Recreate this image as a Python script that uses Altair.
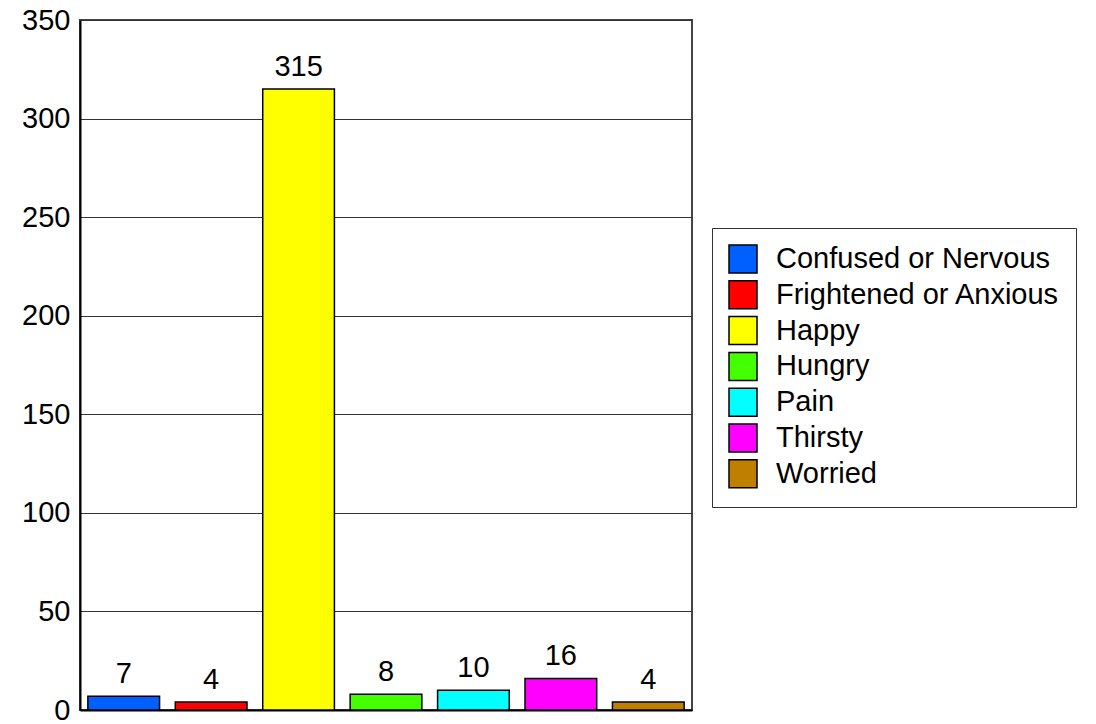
import altair as alt
import pandas as pd

categories = ["Confused or Nervous", "Frightened or Anxious", "Happy", "Hungry", "Pain", "Thirsty", "Worried"]
values = [7, 4, 315, 8, 10, 16, 4]
colors = ["#0060FF", "#FF0000", "#FFFF00", "#44FF00", "#00FFFF", "#FF00FF", "#BF7F00"]
y_ticks = [0, 50, 100, 150, 200, 250, 300, 350]

df = pd.DataFrame({"category": categories, "value": values})
FONT = "Liberation Sans"
FS = 29

base = alt.Chart(df).encode(
    x=alt.X("category:N", sort=categories,
            scale=alt.Scale(paddingInner=0.18, paddingOuter=0.09),
            axis=alt.Axis(title=None, labels=False, ticks=False, domain=True,
                          domainColor="black", domainWidth=2, grid=False)),
    y=alt.Y("value:Q", scale=alt.Scale(domain=[0, 350], nice=False),
            axis=alt.Axis(title=None, values=y_ticks, ticks=False, labelPadding=10,
                          labelFontSize=FS, labelFont=FONT, labelColor="black",
                          domainColor="black", domainWidth=2,
                          grid=True, gridColor="#333333", gridWidth=1.2)),
)

bars = base.mark_bar(stroke="black", strokeWidth=1.5).encode(
    color=alt.Color("category:N", sort=categories,
                    scale=alt.Scale(domain=categories, range=colors),
                    legend=alt.Legend(title=None, orient="none", legendX=632, legendY=208,
                                      symbolType="square", symbolSize=784,
                                      symbolStrokeColor="black", symbolStrokeWidth=1.5,
                                      labelFontSize=FS, labelFont=FONT, labelColor="black",
                                      labelOffset=18, rowPadding=1.8,
                                      padding=16, strokeColor="#333333",
                                      fillColor="white", labelLimit=400))
)

text = base.mark_text(baseline="alphabetic", dy=-13, fontSize=FS, font=FONT, color="black").encode(
    text="value:Q"
)

chart = (bars + text).properties(
    width=612, height=690,
    autosize=alt.AutoSizeParams(type="none"),
    padding={"left": 72, "top": 12, "right": 396, "bottom": 14},
).configure_view(stroke="#444444", strokeWidth=2)

chart.save("out.html", embed_options={"renderer": "svg", "actions": False})
